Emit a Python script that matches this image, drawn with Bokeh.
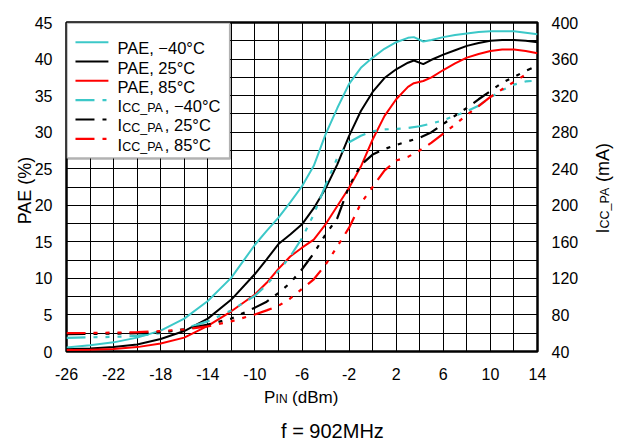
import math

from bokeh.plotting import figure
from bokeh.models import Range1d, LinearAxis, FixedTicker, Label, BoxAnnotation, Span
from bokeh.layouts import column
from bokeh.embed import file_html
from bokeh.resources import INLINE

# ---- data: PA efficiency and PA supply current vs. input power, f = 902 MHz ----
pin_pae = [-26, -24, -22, -20, -18, -16, -14, -12, -10, -9, -8, -7, -6, -5, -4, -3, -2, -1,
           0, 1, 2, 3, 3.5, 4.3, 5, 6, 7, 8, 9, 10, 11, 12, 13, 14]
pae_m40 = [0.55, 0.85, 1.25, 1.9, 2.85, 4.5, 6.9, 10.1, 14.6, 16.5, 18.3, 20.4, 22.6, 25.4,
           29.7, 33.3, 36.6, 38.8, 40.2, 41.4, 42.3, 42.9, 43.0, 42.4, 42.6, 43.0, 43.3, 43.5,
           43.7, 43.8, 43.8, 43.8, 43.6, 43.4]
pae_25 = [0.3, 0.4, 0.6, 0.95, 1.7, 2.8, 4.5, 7.1, 10.6, 12.6, 14.7, 16.0, 17.4, 19.6, 22.3,
          25.6, 29.5, 32.9, 35.5, 37.4, 38.6, 39.5, 39.8, 39.3, 39.9, 40.6, 41.2, 41.8, 42.2,
          42.5, 42.6, 42.6, 42.5, 42.3]
pae_85 = [0.2, 0.25, 0.35, 0.6, 1.1, 1.9, 3.5, 5.5, 7.8, 9.4, 11.3, 13.0, 14.2, 15.3, 17.4,
          19.9, 22.4, 25.3, 29.0, 32.2, 34.5, 36.2, 36.7, 37.0, 37.5, 38.5, 39.4, 40.2, 40.7,
          41.1, 41.3, 41.3, 41.1, 40.8]

pin_icc = [-26, -24, -22, -20, -18, -16, -14, -12, -10, -9, -8, -7, -6, -5, -4, -3, -2, -1,
           0, 1, 2, 3, 4, 5, 6, 7, 8, 9, 10, 11, 12, 13, 13.5]
icc_m40 = [55, 55.5, 56, 57, 60, 65, 73, 85, 101, 113, 128, 144, 164, 190, 222, 252, 269, 276,
           281, 283, 283.5, 284.5, 286.5, 289.5, 293, 298, 303, 309, 318, 326, 332, 335.5, 336]
icc_25 = [59, 59.3, 59.6, 60, 61, 64, 69.5, 76, 88, 94.5, 104, 115, 130, 147.5, 168, 186, 221,
          244, 255.5, 261.5, 266, 270, 274, 280, 289, 298, 306.5, 316, 325, 334, 340.5, 347, 350]
pin_icc85 = pin_icc[:-1]
icc_85 = [60, 60.3, 60.6, 61.2, 62.2, 64.3, 67.5, 73, 80.5, 85, 90, 98, 108.5, 119, 135, 155,
          175.5, 202, 220, 238, 249, 253, 260, 268.5, 278.5, 288.5, 299, 308.5, 318.5, 327,
          335, 343]

x_ticks = list(range(-26, 15, 4))
pae_ticks = list(range(0, 46, 5))
icc_ticks = list(range(40, 401, 40))
x_grid = list(range(-26, 15, 2))
pae_grid = [i * 2.5 for i in range(19)]

legend_labels = [
    ("PAE, \u221240\u00b0C", None),
    ("PAE, 25\u00b0C", None),
    ("PAE, 85\u00b0C", None),
    ("I", ("CC_PA", ", \u221240\u00b0C")),
    ("I", ("CC_PA", ", 25\u00b0C")),
    ("I", ("CC_PA", ", 85\u00b0C")),
]

# ---- styling / layout ----
FONT = "Liberation Sans"
CYAN = "#3CC8C8"
RED = "#FF0000"
BLACK = "#000000"
DASH = "19 8 4 8 4 8 4 8"

X0, X1 = -26, 14
Y0, Y1 = 0, 45
I0, I1 = 40, 400

TOP_H = 6
W, H = 640, 441 - TOP_H
BL, BR, BT, BB = 65, 103, 16, 90

# frame edges in page pixels, used to place the free-standing texts
FL = BL
FR = W - BR
FT = TOP_H + BT
FB = TOP_H + H - BB


def xd(px):
    return X0 + (px - FL) * (X1 - X0) / (FR - FL)


def yd(py):
    return Y1 - (py - FT) * (Y1 - Y0) / (FB - FT)


p = figure(width=W, height=H, x_range=Range1d(X0, X1), y_range=Range1d(Y0, Y1),
           output_backend="svg", toolbar_location=None,
           min_border_left=BL, min_border_right=BR, min_border_top=BT, min_border_bottom=BB,
           background_fill_color="white", border_fill_color="white")
p.extra_y_ranges = {"icc": Range1d(I0, I1)}
right_axis = LinearAxis(y_range_name="icc")
p.add_layout(right_axis, "right")

left_axis = p.left[0]
bottom_axis = p.below[0]

for ax in (left_axis, right_axis, bottom_axis):
    ax.axis_line_color = None
    ax.major_tick_line_color = None
    ax.minor_tick_line_color = None
    ax.major_label_text_font = FONT
    ax.major_label_text_font_size = "16px"
    ax.major_label_text_color = "black"

bottom_axis.ticker = FixedTicker(ticks=x_ticks)
bottom_axis.major_label_overrides = {t: str(t) for t in x_ticks}
bottom_axis.major_label_standoff = 10
left_axis.ticker = FixedTicker(ticks=pae_ticks)
left_axis.major_label_standoff = 8
right_axis.ticker = FixedTicker(ticks=icc_ticks)
right_axis.major_label_standoff = 8

p.xgrid.ticker = FixedTicker(ticks=x_grid)
p.ygrid.ticker = FixedTicker(ticks=pae_grid)
p.grid.grid_line_color = "black"
p.grid.grid_line_width = 1
p.grid.level = "image"

p.outline_line_color = "black"
p.outline_line_width = 2.5

# efficiency curves (left axis)
for xs, ys, col in ((pin_pae, pae_m40, CYAN), (pin_pae, pae_25, BLACK), (pin_pae, pae_85, RED)):
    p.line(xs, ys, line_color=col, line_width=2)

# supply current curves (right axis)
for xs, ys, col in ((pin_icc, icc_m40, CYAN), (pin_icc, icc_25, BLACK), (pin_icc85, icc_85, RED)):
    p.line(xs, ys, line_color=col, line_width=2.2, line_dash=DASH, y_range_name="icc")

# ---- legend box (top-left corner of the frame) ----
p.add_layout(BoxAnnotation(left=X0, right=xd(229), top=Y1, bottom=yd(158),
                           fill_color="white", fill_alpha=1.0,
                           line_color="black", line_width=2.5, level="underlay"))

legend_styles = [(CYAN, None), (BLACK, None), (RED, None), (CYAN, DASH), (BLACK, DASH), (RED, DASH)]
for i, ((main, sub), (col, dash)) in enumerate(zip(legend_labels, legend_styles)):
    cy = 41.7 + 19.32 * i
    kw = dict(line_color=col, line_width=2 if dash is None else 2.2)
    if dash is not None:
        kw["line_dash"] = dash
    p.line([xd(74), xd(107)], [yd(cy), yd(cy)], **kw)
    base = cy + 6
    p.add_layout(Label(x=xd(116), y=yd(base), text=main, text_font=FONT,
                       text_font_size="16.5px", text_color="black",
                       text_align="left", text_baseline="alphabetic"))
    if sub is not None:
        p.add_layout(Label(x=xd(120.8), y=yd(base + 2.2), text=sub[0], text_font=FONT,
                           text_font_size="12.5px", text_color="black",
                           text_align="left", text_baseline="alphabetic"))
        p.add_layout(Label(x=xd(163.5), y=yd(base), text=sub[1], text_font=FONT,
                           text_font_size="16.5px", text_color="black",
                           text_align="left", text_baseline="alphabetic"))


def text(side, px, py, s, size, angle=0.0, align="left"):
    # texts outside the frame sit in side panels so they are not clipped;
    # the panel is picked only for room, the position comes from px/py
    p.add_layout(Label(x=xd(px), y=yd(py), text=s, text_font=FONT, text_font_size=size,
                       text_color="black", text_align=align, text_baseline="alphabetic",
                       angle=angle), side)


# x-axis title: P_IN (dBm)
text("left", 263, 397, "P", "17px")
text("above", 274.5, 398.5, "IN", "12px")
text("below", 291, 397, "(dBm)", "17px")

# left axis title
text("left", 23, 190, "PAE (%)", "18px", angle=math.pi / 2, align="center")

# right axis title: I_CC_PA (mA), reading upward
text("right", 603, 233, "I", "18px", angle=math.pi / 2)
text("right", 605, 228, "CC_PA", "12.5px", angle=math.pi / 2)
text("right", 603, 181.5, "(mA)", "18px", angle=math.pi / 2)

# caption
text("below", 331.5, 430, "f = 902MHz", "20px", align="center")

# thin grey page rule above the chart
rule = figure(width=W, height=TOP_H, output_backend="svg", toolbar_location=None,
              x_range=Range1d(0, 1), y_range=Range1d(-TOP_H / 2, TOP_H / 2),
              x_axis_type=None, y_axis_type=None, min_border=0,
              background_fill_color="white", border_fill_color="white",
              outline_line_color=None)
rule.add_layout(Span(location=0, dimension="width", line_color="#8a8a8a", line_width=1.3))

layout = column(rule, p, spacing=0)
open("out.html", "w").write(file_html(layout, INLINE))
